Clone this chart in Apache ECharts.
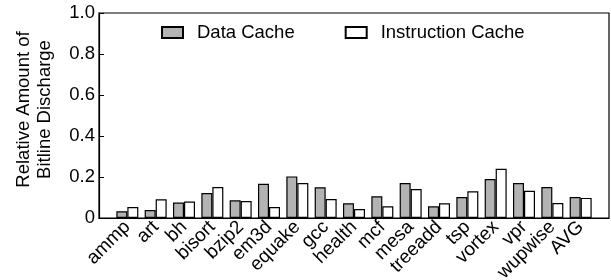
<!DOCTYPE html>
<html>
<head>
<meta charset="utf-8">
<script src="https://cdn.jsdelivr.net/npm/echarts@6/dist/echarts.min.js"></script>
<style>
  html, body { margin: 0; padding: 0; background: #fff; }
</style>
</head>
<body>
<div id="main" style="width: 611px;height:280px;"></div>
<script>
// benchmarks on the x axis
const categories = ["ammp", "art", "bh", "bisort", "bzip2", "em3d", "equake", "gcc", "health",
  "mcf", "mesa", "treeadd", "tsp", "vortex", "vpr", "wupwise", "AVG"];
// relative bitline discharge
const dataCache = [0.033, 0.039, 0.075, 0.122, 0.086, 0.167, 0.203, 0.150, 0.072,
  0.106, 0.171, 0.057, 0.102, 0.190, 0.171, 0.151, 0.102];
const instrCache = [0.054, 0.091, 0.080, 0.151, 0.083, 0.054, 0.171, 0.093, 0.044,
  0.057, 0.141, 0.072, 0.130, 0.240, 0.133, 0.073, 0.098];

const FONT = "'Liberation Sans', Arial, sans-serif";

// one empty slot on each side, like the original plot
const padCats = [""].concat(categories, [""]);
const pad = (arr) => [null].concat(arr, [null]);

var myChart = echarts.init(document.getElementById("main"));
const options = {
  animation: false,
  backgroundColor: "#fff",
  grid: {
    left: 99,
    right: 2,
    top: 13,
    bottom: 62,
    outerBoundsMode: "none", // keep the plot box fixed, labels may hang off
    show: true,
    borderColor: "#000",
    borderWidth: 1.2,
  },
  legend: {
    top: 23,
    left: 161,
    padding: 0,
    itemGap: 50,
    itemWidth: 21,
    itemHeight: 11,
    icon: "rect",
    textStyle: { fontFamily: FONT, fontSize: 18.5, color: "#000", padding: [0, 0, 0, 9] },
    data: ["Data Cache", "Instruction Cache"],
  },
  xAxis: {
    type: "category",
    data: padCats,
    boundaryGap: false,
    axisLine: { lineStyle: { color: "#000", width: 1.2 } },
    axisTick: { show: false },
    splitLine: { show: false },
    axisLabel: {
      interval: 0,
      rotate: 45,
      margin: 6,
      color: "#000",
      fontFamily: FONT,
      fontSize: 19,
    },
  },
  yAxis: {
    type: "value",
    min: 0,
    max: 1,
    interval: 0.2,
    name: "Relative Amount of\nBitline Discharge",
    nameLocation: "middle",
    nameGap: 44,
    nameTextStyle: {
      fontFamily: FONT,
      fontSize: 18.5,
      color: "#000",
      lineHeight: 21,
      padding: [0, 0, 0, 12],
    },
    axisLine: { show: true, lineStyle: { color: "#000", width: 1.2 } },
    axisTick: { show: true, inside: true, length: 5, lineStyle: { color: "#000" } },
    splitLine: { show: false },
    axisLabel: {
      color: "#000",
      fontFamily: FONT,
      fontSize: 18.5,
      margin: 4,
      formatter: function (v) {
        return v === 0 ? "0" : v.toFixed(1);
      },
    },
  },
  series: [
    {
      name: "Data Cache",
      type: "bar",
      data: pad(dataCache),
      barWidth: 11,
      barGap: "0%",
      itemStyle: { color: "#b3b3b3", borderColor: "#000", borderWidth: 1.2 },
    },
    {
      name: "Instruction Cache",
      type: "bar",
      data: pad(instrCache),
      barWidth: 11,
      barGap: "0%",
      itemStyle: { color: "#fff", borderColor: "#000", borderWidth: 1.2 },
    },
  ],
};
myChart.setOption(options);
</script>
</body>
</html>
